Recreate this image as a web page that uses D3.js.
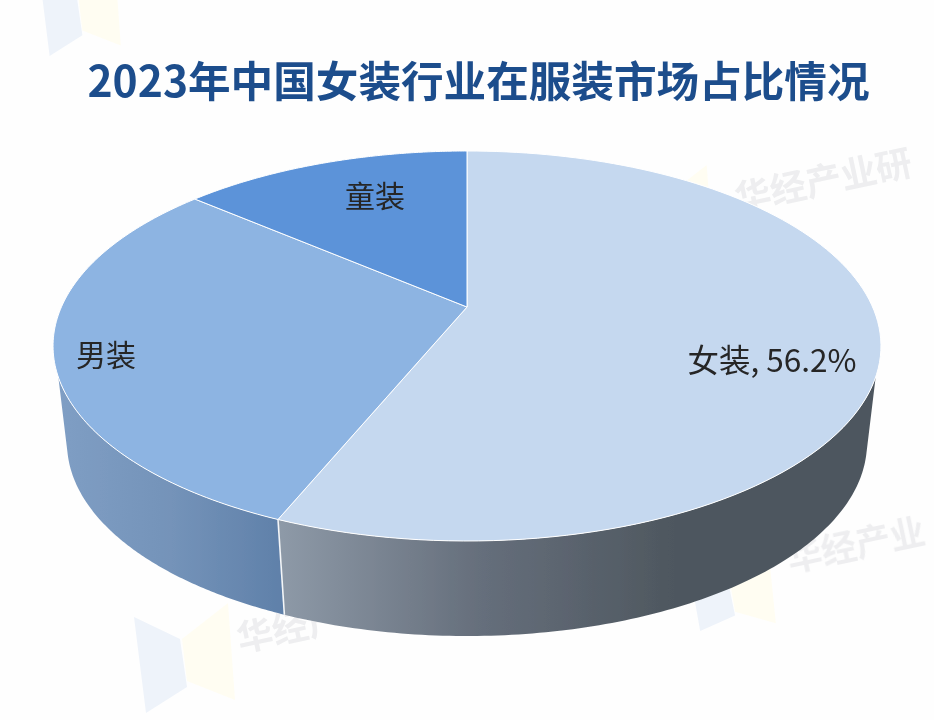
<!DOCTYPE html>
<html><head><meta charset="utf-8">
<script src="https://cdn.jsdelivr.net/npm/d3@7"></script>
<style>html,body{margin:0;padding:0;background:#fefefe}svg{display:block}</style></head>
<body><svg id="c" width="934" height="720"></svg>
<script>
const titleText = "2023年中国女装行业在服装市场占比情况";
const categories = ["女装", "男装", "童装"];
const shares = [56.2, 30.1, 13.7];
const labelTexts = ["女装, 56.2%", "男装", "童装"];
const labelSizes = [31.5, 30, 30];
const topColors = ["#c5d8ef", "#8db4e2", "#5b93d9"];
const sideStops = [["#8e9aa8", "#666f7c", "#4e575f"], ["#7f9ec4", "#7493b9", "#5f80a9"], null];
const watermarkTexts = ["华经产", "华经产业", "华经产业研"];

const svg = d3.select("#c");
const defs = svg.append("defs");
defs.append("filter").attr("id","soft").attr("x","-5%").attr("y","-5%").attr("width","110%").attr("height","110%")
  .append("feGaussianBlur").attr("stdDeviation",0.7);
const root = svg.append("g").attr("filter","url(#soft)");

// Perspective mapping of the pie disc onto the page
const K = 0.2;
const topDisc = {x:467, y:307, a:405.6, b:187.2};
const baseDisc = {x:467, y:404.4, a:391.9, b:185.3};
const project = (d, ang) => {
  const u = Math.sin(ang), v = Math.cos(ang), w = 1 + K*v;
  return [d.x + d.a*u/w, d.y - d.b*v/w];
};
const rim = (d, a0, a1) => d3.range(0, 121).map(i => project(d, a0 + (a1-a0)*i/120));
const line = d3.line();
const rad = Math.PI/180;

const arcs = d3.pie().sort(null).value(v => v)(shares);
const sideFrom = 110.4*rad, sideTo = 249.6*rad;
const baseFrom = 105*rad, baseTo = 255*rad;

// Watermarks
const marks = [
  {x:134, y:603, sx:1, sy:1},
  {x:690, y:565, sx:.85, sy:.6},
  {x:655, y:165, sx:.55, sy:.55},
  {x:40, y:-32, sx:.8, sy:.8}
];
marks.forEach(m => {
  const g = root.append("g").attr("transform",`translate(${m.x},${m.y}) scale(${m.sx},${m.sy})`);
  g.append("path").attr("d","M0,14 L46,36 L53,84 L12,110 Z").attr("fill","#eef3fa");
  g.append("path").attr("d","M48,36 L94,0 L101,97 L53,78 Z").attr("fill","#fffdf2");
});
const wmPos = [[240,652,36],[790,572,35],[738,212,36]];
watermarkTexts.forEach((t,i) => {
  root.append("text").attr("transform",`translate(${wmPos[i][0]},${wmPos[i][1]}) rotate(-12)`)
    .attr("font-family","'Noto Sans CJK SC'").attr("font-size",wmPos[i][2]).attr("font-weight",700)
    .attr("fill","#d8dadd").attr("opacity",.42).text(t);
});

// Side walls
arcs.forEach((a,i) => {
  const stops = sideStops[i];
  if (!stops) return;
  const from = Math.max(a.startAngle, sideFrom), to = Math.min(a.endAngle, sideTo);
  if (to <= from) return;
  const bFrom = Math.max(a.startAngle, baseFrom), bTo = Math.min(a.endAngle, baseTo);
  const upper = rim(topDisc, from, to), lower = rim(baseDisc, bFrom, bTo).reverse();
  const xs = upper.concat(lower).map(p => p[0]);
  const lo = d3.min(xs), hi = i===0 ? d3.max(xs)-200 : d3.max(xs);
  const grad = defs.append("linearGradient").attr("id","side"+i)
    .attr("gradientUnits","userSpaceOnUse").attr("x1",lo).attr("x2",hi).attr("y1",0).attr("y2",0);
  stops.forEach((c,j) => grad.append("stop").attr("offset",j/(stops.length-1)).attr("stop-color",c));
  root.append("path").attr("d", line(upper.concat(lower))+"Z").attr("fill",`url(#side${i})`);
});
// White seam between side walls
const seam = arcs[0].endAngle;
root.append("path").attr("d", line([project(topDisc,seam), project(baseDisc,seam)]))
  .attr("stroke","#f4f6f8").attr("stroke-width",1.6).attr("fill","none");

// Top face
arcs.forEach((a,i) => {
  const pts = [[topDisc.x, topDisc.y]].concat(rim(topDisc, a.startAngle, a.endAngle));
  root.append("path").attr("d", line(pts)+"Z").attr("fill",topColors[i])
    .attr("stroke","#ffffff").attr("stroke-width",1).attr("stroke-linejoin","round");
});

// Title and labels
root.append("text").attr("x",478.5).attr("y",97).attr("text-anchor","middle")
  .attr("font-family","'Noto Sans CJK SC'").attr("font-weight",700).attr("font-size",42.6)
  .attr("fill","#1f4e8c").text(titleText);
const labelPos = [[772,372],[106,366],[375,207]];
labelTexts.forEach((t,i) => {
  root.append("text").attr("x",labelPos[i][0]).attr("y",labelPos[i][1]).attr("text-anchor","middle")
    .attr("font-family","'Noto Sans CJK SC'").attr("font-size",labelSizes[i]).attr("fill","#262626").text(t);
});
</script></body></html>
